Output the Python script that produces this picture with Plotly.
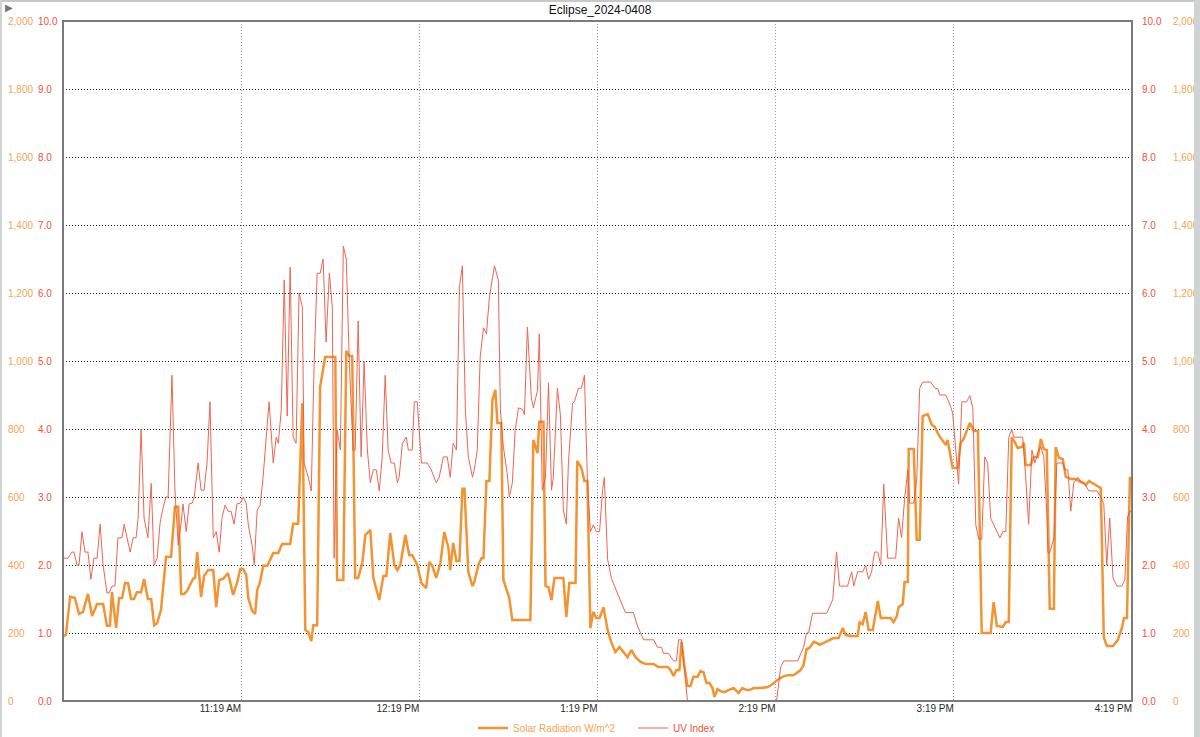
import pandas as pd
import plotly.graph_objects as go

# ---------------- data ----------------
START = "2024-04-08 10:19:00"          # left edge of the chart
END = "2024-04-08 16:19:00"

# minutes after 10:19 AM, solar radiation (W/m^2)
solar_min = [0.0, 1.0, 2.4, 4.0, 5.4, 6.7, 8.4, 9.8, 11.5, 13.5, 14.8, 15.8, 16.5, 17.9, 18.9, 19.9,
             20.9, 21.9, 22.9, 23.9, 24.9, 26.3, 27.3, 28.6, 29.7, 30.7, 31.7, 33.0, 34.7, 36.4, 37.7,
             38.8, 39.8, 40.8, 41.8, 43.8, 44.5, 45.2, 46.5, 47.5, 48.9, 50.6, 51.6, 52.6, 53.9, 55.6,
             57.3, 58.6, 59.7, 60.7, 61.7, 62.4, 63.7, 64.7, 65.4, 66.4, 67.4, 68.8, 70.8, 72.5, 73.8,
             76.5, 77.5, 79.2, 80.6, 81.6, 82.6, 83.6, 84.3, 85.6, 86.6, 88.3, 90.0, 91.7, 92.3, 94.4,
             95.4, 96.4, 97.4, 98.4, 99.4, 100.8, 101.8, 103.5, 104.5, 106.5, 107.9, 108.9, 110.2,
             111.6, 112.6, 113.6, 115.3, 116.6, 117.6, 119.3, 120.7, 122.3, 123.4, 124.4, 125.7, 127.1,
             128.4, 129.8, 130.4, 131.4, 132.5, 133.5, 134.5, 135.2, 136.5, 137.9, 138.5, 139.9, 140.9,
             141.6, 142.6, 143.6, 144.6, 145.6, 146.3, 147.6, 148.3, 149.6, 150.3, 151.3, 154.0, 157.4,
             158.4, 159.8, 160.4, 161.8, 162.5, 163.5, 164.5, 165.5, 168.5, 169.5, 170.5, 172.6, 173.2,
             174.6, 175.6, 176.6, 177.6, 178.6, 179.6, 180.7, 182.0, 183.4, 184.7, 186.0, 187.4, 188.7,
             190.1, 191.4, 192.8, 194.5, 196.2, 198.9, 200.5, 203.6, 204.6, 205.6, 206.6, 207.6, 208.3,
             209.3, 210.3, 211.3, 212.3, 213.7, 214.7, 215.7, 216.7, 217.7, 218.7, 219.4, 220.4, 221.4,
             222.8, 224.1, 225.8, 227.5, 228.8, 230.2, 231.2, 232.6, 234.9, 237.3, 239.0, 240.6, 242.3,
             244.0, 246.0, 248.4, 249.4, 250.4, 251.4, 252.8, 253.8, 254.8, 256.2, 257.8, 259.5, 261.2,
             262.6, 263.6, 265.3, 267.6, 268.3, 269.3, 270.3, 271.3, 272.7, 274.4, 275.4, 277.7, 278.7,
             279.7, 280.8, 281.4, 282.8, 283.4, 284.5, 284.8, 286.5, 287.5, 288.5, 289.5, 291.2, 292.6,
             293.6, 294.9, 297.3, 297.9, 299.6, 301.3, 302.3, 303.3, 304.7, 305.4, 306.7, 308.1, 309.4,
             312.4, 313.4, 314.5, 316.5, 317.5, 318.5, 319.5, 320.5, 321.5, 322.9, 323.6, 324.2, 325.9,
             326.9, 328.3, 329.3, 330.3, 331.3, 332.3, 333.7, 334.3, 335.4, 336.7, 337.7, 339.4, 341.1,
             342.1, 343.8, 344.5, 345.5, 347.2, 349.5, 350.5, 351.5, 353.6, 355.2, 356.6, 357.3, 358.3,
             359.3, 360.0]
solar_wm2 = [190, 195, 307, 303, 256, 262, 315, 250, 285, 285, 221, 221, 320, 215, 303, 303,
             347, 347, 300, 300, 320, 320, 359, 300, 300, 223, 229, 268, 424, 424, 571,
             571, 315, 315, 324, 359, 362, 438, 306, 368, 385, 385, 276, 356, 359, 376,
             312, 347, 388, 388, 371, 303, 265, 256, 326, 351, 398, 398, 435, 435, 462,
             462, 521, 521, 876, 209, 203, 176, 223, 223, 924, 1012, 1012, 1012, 356, 356,
             1030, 1015, 1015, 362, 362, 406, 488, 503, 362, 297, 368, 368, 494,
             400, 385, 400, 488, 429, 429, 400, 347, 332, 409, 397, 362, 406,
             497, 450, 385, 465, 412, 412, 624, 624, 379, 338, 350, 400, 420,
             420, 647, 647, 885, 915, 818, 818, 356, 318, 303, 238, 238, 238,
             768, 729, 821, 821, 338, 335, 297, 362, 362, 247, 347, 347, 706,
             685, 647, 647, 215, 262, 244, 244, 276, 209, 171, 144, 159, 144,
             129, 150, 129, 115, 109, 109, 100, 100, 91, 74, 91, 91, 174,
             100, 44, 44, 71, 71, 88, 85, 53, 53, 38, 12, 35, 29,
             26, 32, 38, 24, 38, 32, 32, 38, 38, 41, 50, 62, 71,
             76, 76, 91, 106, 153, 156, 174, 171, 165, 171, 176, 185, 185,
             215, 194, 191, 191, 232, 226, 262, 209, 209, 294, 244, 244, 244,
             232, 250, 276, 285, 350, 350, 741, 741, 474, 474, 838, 844, 812,
             806, 782, 753, 768, 685, 685, 759, 771, 806, 818, 794, 794, 200,
             200, 291, 221, 218, 232, 232, 776, 762, 744, 747, 759, 694, 694,
             718, 718, 771, 741, 738, 271, 271, 747, 715, 712, 659, 653, 653,
             647, 641, 635, 647, 638, 626, 188, 162, 162, 179, 215, 244, 244,
             656, 656]

# minutes after 10:19 AM, UV index
uv_min = [0.0, 1.7, 3.0, 3.7, 4.7, 5.4, 6.4, 7.4, 8.4, 9.4, 10.4, 11.5, 12.5, 13.5, 14.8, 15.5,
          16.5, 17.5, 18.5, 19.9, 20.6, 22.6, 23.6, 24.6, 25.3, 26.3, 27.3, 28.6, 29.7, 30.7, 31.7,
          32.7, 33.7, 34.7, 35.4, 36.7, 37.7, 38.8, 39.8, 40.4, 41.5, 42.5, 43.5, 44.2, 45.5, 46.5,
          47.5, 48.5, 49.5, 50.6, 51.6, 52.6, 53.6, 54.6, 55.6, 56.6, 57.6, 58.6, 59.7, 60.7, 61.7,
          62.4, 63.7, 64.4, 65.4, 66.4, 67.4, 68.8, 69.4, 70.8, 71.8, 72.5, 73.5, 74.5, 75.5, 76.5,
          77.5, 78.5, 79.5, 80.6, 81.2, 82.6, 83.6, 84.6, 85.6, 86.6, 87.6, 88.6, 89.7, 90.7, 91.3,
          92.3, 93.4, 94.4, 95.4, 96.4, 97.7, 98.4, 99.4, 100.4, 101.4, 102.5, 103.5, 104.5, 105.5,
          106.5, 107.5, 108.5, 109.5, 110.5, 111.6, 112.6, 113.2, 114.3, 115.6, 116.3, 117.6, 118.3,
          119.3, 120.7, 122.7, 124.0, 125.7, 126.7, 128.1, 129.4, 130.4, 131.4, 132.5, 133.5, 134.5,
          135.5, 136.5, 137.9, 138.5, 139.5, 140.5, 141.6, 142.6, 143.6, 144.6, 145.3, 146.6, 147.3,
          148.3, 149.6, 150.3, 151.3, 152.3, 153.4, 154.7, 155.4, 156.4, 157.7, 158.4, 159.8, 160.4,
          161.4, 162.5, 163.5, 164.5, 165.1, 166.5, 167.5, 168.5, 169.5, 170.2, 171.6, 172.2, 173.6,
          174.6, 175.6, 176.6, 177.6, 178.6, 179.6, 180.7, 181.7, 182.3, 183.4, 184.7, 187.1, 189.4,
          192.1, 193.5, 195.5, 198.9, 200.2, 201.6, 202.2, 203.9, 205.6, 206.6, 207.3, 208.3, 210.3,
          240.3, 241.7, 242.7, 247.4, 248.4, 249.4, 250.4, 251.1, 252.4, 257.2, 259.2, 260.5, 261.5,
          264.2, 265.6, 266.3, 267.6, 269.3, 270.3, 271.3, 272.3, 273.3, 274.4, 275.4, 276.4, 277.7,
          280.4, 281.4, 282.4, 283.4, 284.5, 285.1, 286.5, 287.5, 288.5, 289.5, 292.2, 293.6, 294.6,
          295.3, 297.3, 298.3, 299.6, 300.3, 301.6, 302.7, 304.3, 305.4, 306.4, 307.4, 308.4, 309.4,
          310.4, 311.4, 312.4, 314.1, 315.5, 316.5, 317.5, 318.5, 319.5, 320.2, 323.2, 324.2, 325.2,
          326.3, 327.3, 328.3, 329.3, 330.3, 331.3, 331.7, 332.3, 333.7, 334.7, 336.7, 337.4, 338.4,
          339.4, 340.4, 341.8, 342.8, 344.1, 345.5, 348.2, 349.5, 350.5, 351.5, 352.5, 353.6, 354.9,
          356.6, 357.6, 358.5, 359.3, 360.0]
uv_index = [2.10, 2.10, 2.19, 2.19, 2.00, 2.00, 2.49, 2.19, 2.19, 1.79, 2.10, 2.10, 2.60, 2.00, 1.59, 1.59,
            1.69, 1.69, 2.40, 2.40, 2.60, 2.19, 2.40, 2.40, 2.69, 4.00, 2.69, 2.40, 3.20, 2.00, 2.10,
            2.62, 2.84, 3.00, 3.00, 4.79, 3.10, 2.29, 2.62, 2.90, 2.49, 2.90, 2.91, 3.00, 3.50, 3.10,
            3.10, 3.50, 4.40, 2.40, 2.49, 2.19, 2.71, 2.88, 2.79, 2.79, 2.60, 2.90, 2.91, 3.00, 2.91,
            2.59, 2.29, 2.00, 2.81, 2.88, 3.30, 4.10, 4.40, 3.50, 3.88, 3.79, 4.28, 6.19, 4.19, 6.38,
            3.88, 3.79, 6.00, 5.79, 3.50, 3.29, 3.09, 5.01, 6.29, 6.29, 6.50, 5.28, 6.29, 5.79, 2.10,
            3.99, 3.69, 6.69, 6.50, 5.01, 3.69, 3.69, 5.59, 3.59, 4.99, 3.69, 3.21, 3.40, 3.40,
            3.09, 3.59, 4.79, 3.69, 3.50, 3.50, 3.21, 3.29, 3.79, 3.88, 3.69, 3.69, 4.40,
            4.40, 3.50, 3.50, 3.40, 3.21, 3.29, 3.59, 3.59, 3.29, 3.79, 3.69, 6.09, 6.40,
            4.28, 3.59, 3.29, 3.40, 3.69, 5.06, 5.49, 5.40, 5.94, 6.22, 6.40, 6.19, 4.28,
            3.74, 3.34, 3.00, 3.20, 3.99, 4.31, 4.29, 4.21, 5.50, 4.47, 4.31, 4.57, 5.40,
            3.10, 3.29, 4.68, 3.10, 3.28, 4.60, 4.21, 2.81, 2.60, 3.50, 4.38, 4.40, 4.60,
            4.60, 4.79, 3.25, 2.49, 2.59, 2.49, 2.49, 3.10, 3.29, 2.08, 1.80, 1.53, 1.30,
            1.30, 1.10, 0.90, 0.90, 0.79, 0.79, 0.70, 0.70, 0.59, 0.59, 0.90, 0.90, 0.00,
            0.00, 0.50, 0.59, 0.59, 0.70, 0.79, 1.00, 1.00, 1.29, 1.29, 1.49, 2.19, 1.69,
            1.69, 1.90, 1.69, 1.90, 1.90, 1.99, 1.79, 1.90, 2.19, 2.19, 2.00, 3.19, 2.10,
            2.10, 2.69, 2.40, 2.96, 3.40, 2.91, 2.91, 3.25, 4.60, 4.69, 4.69, 4.60, 4.59,
            4.50, 4.50, 4.40, 4.24, 3.91, 3.19, 4.40, 4.40, 4.49, 4.31, 2.59, 2.38, 2.38,
            3.59, 3.50, 2.69, 2.53, 2.40, 2.49, 2.49, 3.88, 3.99, 3.88, 3.88, 3.29, 2.60,
            3.69, 3.50, 3.65, 3.74, 3.59, 2.76, 2.18, 2.18, 2.40, 3.50, 3.50, 3.40, 3.40,
            2.79, 3.21, 3.29, 3.22, 3.19, 3.09, 3.09, 3.00, 2.90, 2.00, 2.69, 1.81, 1.69,
            1.69, 1.78, 2.71, 2.79, 2.79]

x_tick_times = ["2024-04-08 11:19", "2024-04-08 12:19", "2024-04-08 13:19",
                "2024-04-08 14:19", "2024-04-08 15:19", "2024-04-08 16:19"]
x_tick_labels = ["11:19 AM", "12:19 PM", "1:19 PM", "2:19 PM", "3:19 PM", "4:19 PM"]
solar_ticks = list(range(0, 2001, 200))
uv_ticks = [i * 1.0 for i in range(0, 11)]

TITLE = "Eclipse_2024-0408"
SOLAR_NAME = "Solar Radiation W/m^2"
UV_NAME = "UV Index"

# ---------------- styling ----------------
W, H = 1200, 737
PL, PR, PT, PB = 63, 1132, 21, 701      # plot-area box in px
ORANGE_LINE = "#f39331"
RED_LINE = "#ec5640"
ORANGE_TXT = "#f6a456"
RED_TXT = "#ee5339"
FONT = "Liberation Sans, Arial, sans-serif"

t0 = pd.Timestamp(START)
solar_t = t0 + pd.to_timedelta(solar_min, unit="m")
uv_t = t0 + pd.to_timedelta(uv_min, unit="m")

fig = go.Figure()
fig.add_trace(go.Scatter(
    x=solar_t, y=solar_wm2, mode="lines", yaxis="y",
    name=f"<span style='color:{ORANGE_TXT}'>{SOLAR_NAME}</span>",
    line=dict(color=ORANGE_LINE, width=2.5, shape="linear"),
    hoverinfo="skip",
))
fig.add_trace(go.Scatter(
    x=uv_t, y=uv_index, mode="lines", yaxis="y2",
    name=f"<span style='color:{RED_TXT}'>{UV_NAME}</span>",
    line=dict(color=RED_LINE, width=1),
    opacity=0.9, hoverinfo="skip",
))
# the right-hand scales show the same two series (drawn transparent so they register the axes)
fig.add_trace(go.Scatter(x=uv_t, y=uv_index, mode="lines", yaxis="y3", showlegend=False,
                         line=dict(color="rgba(0,0,0,0)", width=0), hoverinfo="skip"))
fig.add_trace(go.Scatter(x=solar_t, y=solar_wm2, mode="lines", yaxis="y4", showlegend=False,
                         line=dict(color="rgba(0,0,0,0)", width=0), hoverinfo="skip"))


def px_x(p):
    return p / W


def yaxis_common(rng, vals, fmt, color, pos):
    return dict(
        range=rng, tickvals=vals, tickformat=fmt, side="right", anchor="free",
        position=pos, showline=False, ticks="", zeroline=False,
        tickfont=dict(size=10, color=color, family=FONT),
        fixedrange=True,
    )


ya = yaxis_common([0, 2000], solar_ticks, ",d", ORANGE_TXT, px_x(7))
ya.update(showgrid=True, gridcolor="#222222", griddash="1px,2px", gridwidth=1)
ya2 = yaxis_common([0, 10], uv_ticks, ".1f", RED_TXT, px_x(37))
ya2.update(overlaying="y", showgrid=False)
ya3 = yaxis_common([0, 10], uv_ticks, ".1f", RED_TXT, px_x(1141))
ya3.update(overlaying="y", showgrid=False)
ya4 = yaxis_common([0, 2000], solar_ticks, ",d", ORANGE_TXT, px_x(1172))
ya4.update(overlaying="y", showgrid=False)

fig.update_layout(
    width=W, height=H,
    margin=dict(l=0, r=0, t=PT, b=H - PB, autoexpand=False),
    paper_bgcolor="white", plot_bgcolor="white",
    font=dict(family=FONT, size=10, color="#222"),
    title=dict(text=TITLE, x=0.5, xanchor="center", y=1 - 10 / H, yanchor="middle",
               font=dict(size=12, color="#111", family=FONT)),
    xaxis=dict(
        type="date", range=[START, END], domain=[PL / W, PR / W],
        tickvals=x_tick_times, ticktext=x_tick_labels,
        ticklabelposition="outside left", ticks="",
        showgrid=True, gridcolor="#9a9a9a", griddash="1px,2px", gridwidth=1,
        showline=False, zeroline=False,
        tickfont=dict(size=10, color="#2a2a2a", family=FONT),
        anchor="y", fixedrange=True,
    ),
    yaxis=ya, yaxis2=ya2, yaxis3=ya3, yaxis4=ya4,
    showlegend=True,
    legend=dict(orientation="h", x=473 / W, xanchor="left",
                y=-(728 - PB) / (PB - PT), yanchor="middle",
                font=dict(size=10, family=FONT), bgcolor="rgba(0,0,0,0)",
                entrywidth=115, entrywidthmode="pixels", itemwidth=30),
    shapes=[
        dict(type="rect", xref="paper", yref="paper", x0=PL / W, x1=PR / W, y0=0, y1=1,
             line=dict(color="#7a7a7a", width=2), layer="above"),
        # window chrome edges
        dict(type="line", xref="paper", yref="paper", x0=0, x1=1,
             y0=1 + (PT - 1) / (PB - PT), y1=1 + (PT - 1) / (PB - PT),
             line=dict(color="#c8c8c8", width=2)),
        dict(type="rect", xref="paper", yref="paper", x0=1194 / W, x1=1,
             y0=-(H - PB) / (PB - PT), y1=1 + PT / (PB - PT),
             line=dict(width=0), fillcolor="#cfd3d3"),
        dict(type="rect", xref="paper", yref="paper", x0=0, x1=2 / W,
             y0=-(H - PB) / (PB - PT), y1=1 + PT / (PB - PT),
             line=dict(width=0), fillcolor="#cfd3d3"),
    ],
    annotations=[
        dict(text="▶", xref="paper", yref="paper", x=3 / W, xanchor="left",
             y=1 + (PT - 7) / (PB - PT), yanchor="middle", showarrow=False,
             font=dict(size=10, color="#777")),
    ],
)

fig.write_html("out.html", config={"displayModeBar": False},
               post_script="document.body.style.margin='0';")
